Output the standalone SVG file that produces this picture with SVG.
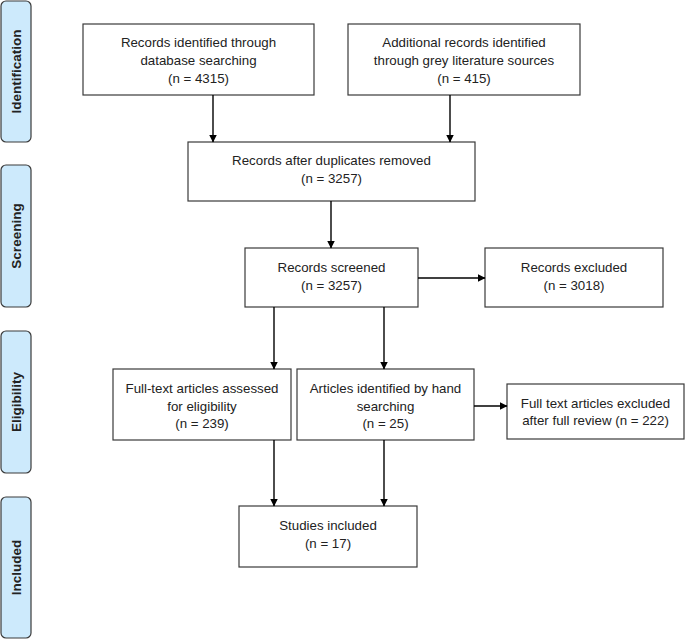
<svg xmlns="http://www.w3.org/2000/svg" width="685" height="639" viewBox="0 0 685 639">
<style>
.box{fill:#fff;stroke:#3a3a3a;stroke-width:1.2}
.lab{fill:#cdeafc;stroke:#3a3a3a;stroke-width:1.2}
.t{font-family:"Liberation Sans",Arial,sans-serif;font-size:13.3px;fill:#222;text-anchor:middle}
.lt{font-family:"Liberation Sans",Arial,sans-serif;font-size:13.5px;font-weight:bold;fill:#222;text-anchor:middle}
.c{stroke:#000;stroke-width:1.4;fill:none;marker-end:url(#ah)}
</style>
<defs>
<marker id="ah" markerWidth="8" markerHeight="8" refX="7.5" refY="4" orient="auto" markerUnits="userSpaceOnUse">
<path d="M0,0 L8,4 L0,8 Z" fill="#000"/>
</marker>
</defs>
<rect width="685" height="639" fill="#fff"/>
<g id="label-identification"><rect class="lab" x="1" y="1" width="30" height="141" rx="5"/><text class="lt" transform="translate(21,71.5) rotate(-90)">Identification</text></g>
<g id="label-screening"><rect class="lab" x="1" y="165" width="30" height="142" rx="5"/><text class="lt" transform="translate(21,236) rotate(-90)">Screening</text></g>
<g id="label-eligibility"><rect class="lab" x="1" y="331" width="30" height="142" rx="5"/><text class="lt" transform="translate(21,402) rotate(-90)">Eligibility</text></g>
<g id="label-included"><rect class="lab" x="1" y="497" width="30" height="141" rx="5"/><text class="lt" transform="translate(21,567.5) rotate(-90)">Included</text></g>

<g id="n1"><rect class="box" x="83" y="24" width="231" height="71"/><text class="t" x="198.5" y="47">Records identified through</text><text class="t" x="198.5" y="65">database searching</text><text class="t" x="198.5" y="83">(n = 4315)</text></g>
<g id="n2"><rect class="box" x="348" y="24" width="232" height="71"/><text class="t" x="464" y="47">Additional records identified</text><text class="t" x="464" y="65">through grey literature sources</text><text class="t" x="464" y="83">(n = 415)</text></g>
<g id="n3"><rect class="box" x="188" y="142" width="287" height="59"/><text class="t" x="331.5" y="165">Records after duplicates removed</text><text class="t" x="331.5" y="183">(n = 3257)</text></g>
<g id="n4"><rect class="box" x="245" y="248" width="173" height="59"/><text class="t" x="331.5" y="272">Records screened</text><text class="t" x="331.5" y="290">(n = 3257)</text></g>
<g id="n5"><rect class="box" x="485" y="248" width="178" height="59"/><text class="t" x="574" y="272">Records excluded</text><text class="t" x="574" y="290">(n = 3018)</text></g>
<g id="n6"><rect class="box" x="113" y="369" width="178" height="71"/><text class="t" x="202" y="393">Full-text articles assessed</text><text class="t" x="202" y="411">for eligibility</text><text class="t" x="202" y="428">(n = 239)</text></g>
<g id="n7"><rect class="box" x="297" y="369" width="177" height="71"/><text class="t" x="385.5" y="393">Articles identified by hand</text><text class="t" x="385.5" y="411">searching</text><text class="t" x="385.5" y="428">(n = 25)</text></g>
<g id="n8"><rect class="box" x="507" y="384" width="177" height="55"/><text class="t" x="595.5" y="408">Full text articles excluded</text><text class="t" x="595.5" y="425">after full review (n = 222)</text></g>
<g id="n9"><rect class="box" x="239" y="506" width="178" height="61"/><text class="t" x="328" y="530">Studies included</text><text class="t" x="328" y="548">(n = 17)</text></g>

<g id="connectors">
<line class="c" x1="213" y1="95" x2="213" y2="142"/>
<line class="c" x1="450" y1="95" x2="450" y2="142"/>
<line class="c" x1="331" y1="201" x2="331" y2="248"/>
<line class="c" x1="418" y1="278" x2="485" y2="278"/>
<line class="c" x1="274" y1="307" x2="274" y2="369"/>
<line class="c" x1="384" y1="307" x2="384" y2="369"/>
<line class="c" x1="474" y1="406" x2="507" y2="406"/>
<line class="c" x1="274" y1="440" x2="274" y2="506"/>
<line class="c" x1="384" y1="440" x2="384" y2="506"/>
</g>
</svg>
